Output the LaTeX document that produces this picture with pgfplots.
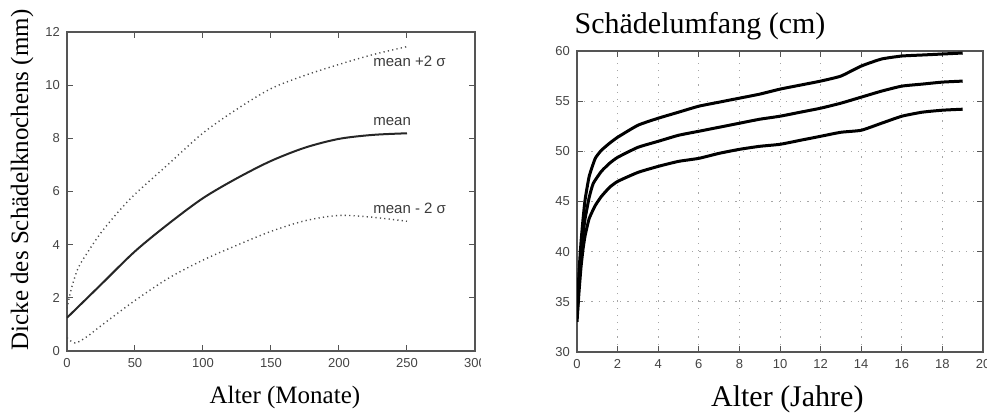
\documentclass[border=0pt]{standalone}
\usepackage{pgfplots}
\pgfplotsset{compat=1.18}
\usepackage{fontspec}
\setmainfont{Liberation Serif}
\newfontfamily\ticksans{Liberation Sans}
\definecolor{axgray}{HTML}{555555}
\begin{document}
\begin{tikzpicture}
\path[use as bounding box] (0pt,0pt) rectangle (493.5pt,207pt);
\pgfplotsset{
  common/.style={
    scale only axis,
    axis line style={axgray, line width=0.8pt},
    tick style={axgray, line width=0.5pt},
    major tick length=3pt,
    tick align=inside,
    ticklabel style={font=\ticksans\fontsize{6.5}{7}\selectfont, text=axgray!80!black},
    /pgf/number format/assume math mode=true,
    clip=true,
  }
}
\begin{scope}
\clip (0pt,0pt) rectangle (240pt,207pt);
\begin{axis}[common,
  at={(33.5pt,31.5pt)}, anchor=south west,
  width=204pt, height=159.5pt,
  xmin=0, xmax=300, ymin=0, ymax=12,
  xtick={0,50,...,300}, ytick={0,2,...,12},
  /pgf/number format/1000 sep={},
  xlabel={Alter (Monate)},
  xlabel style={at={(axis description cs:0.534,-0.147)}, anchor=center, font=\fontsize{12.5}{14}\selectfont},
  ylabel={Dicke des Schädelknochens (mm)},
  ylabel style={at={(axis description cs:-0.110,0.536)}, anchor=center, font=\fontsize{12.5}{14}\selectfont},
]
\addplot[black!85, line width=1pt, smooth, tension=0.5] coordinates {
 (0,1.25) (25,2.5) (50,3.75) (75,4.8) (100,5.75) (125,6.5) (150,7.15) (175,7.65) (200,7.98) (225,8.13) (250,8.19)};
\addplot[black!70, line width=0.7pt, dash pattern=on 0.6pt off 1.6pt, smooth, tension=0.5] coordinates {
 (0,1.6) (3,2.3) (8,3.1) (15,3.7) (25,4.45) (38,5.25) (50,5.9) (75,7.05) (100,8.2) (125,9.1) (150,9.87) (175,10.37) (200,10.78) (225,11.15) (250,11.45)};
\addplot[black!70, line width=0.7pt, dash pattern=on 0.6pt off 1.6pt, smooth, tension=0.5] coordinates {
 (0,0.5) (6,0.3) (15,0.55) (25,0.95) (50,1.9) (75,2.75) (100,3.42) (125,3.98) (150,4.5) (175,4.9) (200,5.1) (225,5.03) (250,4.88)};
\node[anchor=west, font=\ticksans\fontsize{7.5}{8}\selectfont, text=axgray!70!black, inner sep=0pt] at (axis cs:225,10.88) {mean +2 σ};
\node[anchor=west, font=\ticksans\fontsize{7.5}{8}\selectfont, text=axgray!70!black, inner sep=0pt] at (axis cs:225,8.63) {mean};
\node[anchor=west, font=\ticksans\fontsize{7.5}{8}\selectfont, text=axgray!70!black, inner sep=0pt] at (axis cs:225,5.36) {mean - 2 σ};
\end{axis}
\end{scope}
\begin{axis}[common,
  at={(288.5pt,31pt)}, anchor=south west,
  width=203pt, height=150.5pt,
  xmin=0, xmax=20, ymin=30, ymax=60,
  xtick={0,2,...,20}, ytick={30,35,...,60},
  grid=major,
  major grid style={gray!70, line width=0.5pt, dash pattern=on 0.6pt off 3pt},
  title={Schädelumfang (cm)},
  title style={at={(axis description cs:0.303,1.043)}, anchor=center, font=\fontsize{15}{17}\selectfont},
  xlabel={Alter (Jahre)},
  xlabel style={at={(axis description cs:0.518,-0.158)}, anchor=center, font=\fontsize{15}{17}\selectfont},
]
\addplot[black, line width=1.5pt, smooth, tension=0.3] coordinates {
 (0,33.5) (0.1,38) (0.2,41) (0.3,43.3) (0.4,45.2) (0.6,47.5) (0.9,49.3) (1.2,50.1) (1.6,50.8) (2,51.4) (3,52.6) (4,53.3) (5,53.9) (6,54.5) (7,54.9) (8,55.3) (9,55.7) (10,56.2) (11,56.6) (12,57.0) (13,57.5) (14,58.5) (15,59.2) (16,59.5) (17,59.6) (18,59.7) (19,59.8)};
\addplot[black, line width=1.5pt, smooth, tension=0.3] coordinates {
 (0,33.3) (0.1,37) (0.2,39.8) (0.3,41.8) (0.4,43.3) (0.6,45.4) (0.8,46.8) (1.2,48) (1.6,48.8) (2,49.4) (3,50.4) (4,51.0) (5,51.6) (6,52.0) (7,52.4) (8,52.8) (9,53.2) (10,53.5) (11,53.9) (12,54.3) (13,54.8) (14,55.4) (15,56.0) (16,56.5) (17,56.7) (18,56.9) (19,57.0)};
\addplot[black, line width=1.5pt, smooth, tension=0.3] coordinates {
 (0,33.0) (0.1,36) (0.2,38.5) (0.3,40.3) (0.4,41.6) (0.6,43.3) (0.9,44.6) (1.2,45.5) (1.6,46.4) (2,47.0) (3,47.9) (4,48.5) (5,49.0) (6,49.3) (7,49.8) (8,50.2) (9,50.5) (10,50.7) (11,51.1) (12,51.5) (13,51.9) (14,52.1) (15,52.8) (16,53.5) (17,53.9) (18,54.1) (19,54.2)};
\end{axis}
\end{tikzpicture}
\end{document}
